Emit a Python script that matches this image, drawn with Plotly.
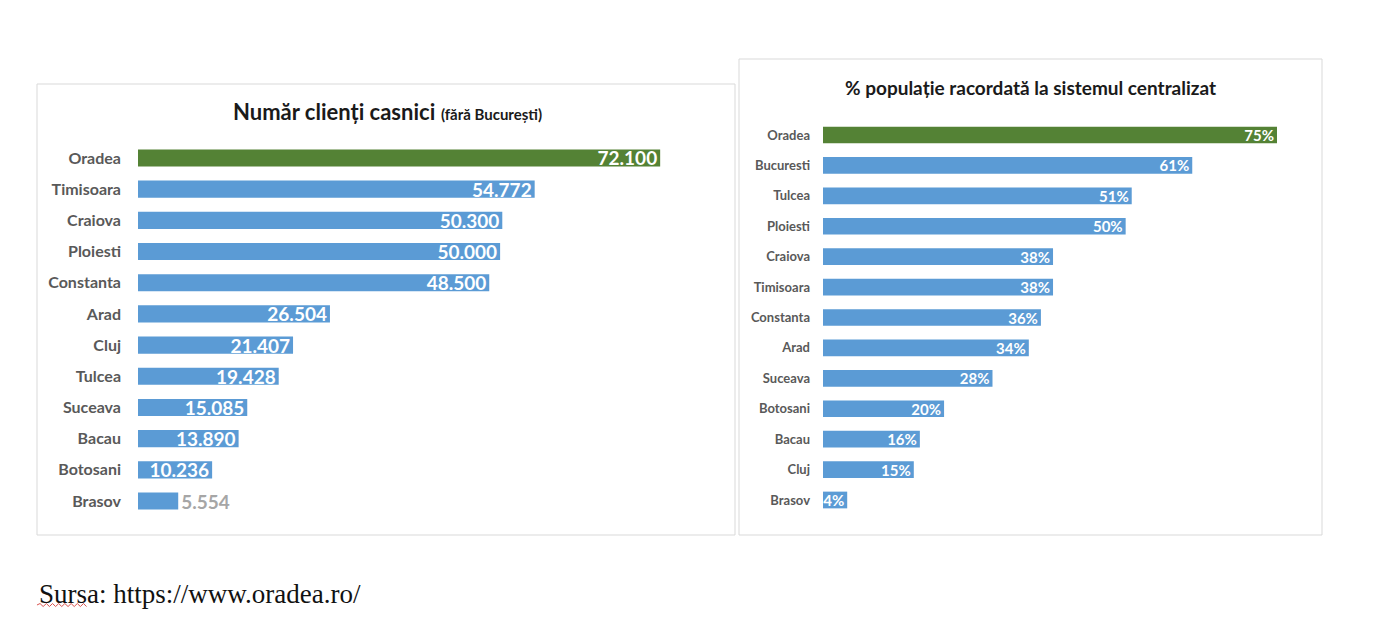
import plotly.graph_objects as go

# date - clienti casnici (fara Bucuresti)
orase_clienti = ["Oradea", "Timisoara", "Craiova", "Ploiesti", "Constanta", "Arad",
                 "Cluj", "Tulcea", "Suceava", "Bacau", "Botosani", "Brasov"]
clienti = [72100, 54772, 50300, 50000, 48500, 26504, 21407, 19428, 15085, 13890, 10236, 5554]
etichete_clienti = ["72.100", "54.772", "50.300", "50.000", "48.500", "26.504",
                    "21.407", "19.428", "15.085", "13.890", "10.236", "5.554"]

# date - % populatie racordata
orase_proc = ["Oradea", "Bucuresti", "Tulcea", "Ploiesti", "Craiova", "Timisoara",
              "Constanta", "Arad", "Suceava", "Botosani", "Bacau", "Cluj", "Brasov"]
procente = [75, 61, 51, 50, 38, 38, 36, 34, 28, 20, 16, 15, 4]

VERDE = "#548235"
ALBASTRU = "#5b9bd5"
W, H = 1400, 637
OFF = 8  # marginea implicita a paginii


def px(x):
    return (x - OFF) / W


def py(y):
    return 1 - (y - OFF) / H


culori1 = [VERDE if o == "Oradea" else ALBASTRU for o in orase_clienti]
culori2 = [VERDE if o == "Oradea" else ALBASTRU for o in orase_proc]

# eticheta pentru Brasov nu incape in bara
pozitii1 = ["inside"] * (len(clienti) - 1) + ["outside"]
culori_text1 = ["white"] * (len(clienti) - 1) + ["#a6a6a6"]

fig = go.Figure()

fig.add_trace(go.Bar(
    x=clienti, y=orase_clienti, orientation="h",
    marker=dict(color=culori1, line=dict(width=0)),
    text=etichete_clienti, textposition=pozitii1, insidetextanchor="end",
    constraintext="none", cliponaxis=False,
    textfont=dict(family="Lato", size=19, color=culori_text1, weight="bold"),
    xaxis="x", yaxis="y", hoverinfo="skip",
))

fig.add_trace(go.Bar(
    x=procente, y=orase_proc, orientation="h",
    marker=dict(color=culori2, line=dict(width=0)),
    text=[f"{p}%" for p in procente], textposition="inside", insidetextanchor="end",
    constraintext="none",
    textfont=dict(family="Lato", size=15, color="white", weight="bold"),
    xaxis="x2", yaxis="y2", hoverinfo="skip",
))

axa_y = dict(autorange=False, showgrid=False, showline=False, zeroline=False, ticks="")

fig.update_layout(
    width=W, height=H,
    margin=dict(l=0, r=0, t=0, b=0),
    paper_bgcolor="white", plot_bgcolor="white",
    showlegend=False, bargap=0.45,
    xaxis=dict(domain=[px(138), px(700)], range=[0, 77600], visible=False),
    yaxis=dict(domain=[py(516.6), py(142.4)], range=[11.5, -0.5],
               categoryorder="array", categoryarray=orase_clienti,
               ticklabelstandoff=16,
               tickfont=dict(family="Lato", size=16, color="#595959", weight="bold"),
               **axa_y),
    xaxis2=dict(domain=[px(823), px(1300)], range=[0, 78.8], visible=False),
    yaxis2=dict(domain=[py(515.2), py(119.8)], range=[12.5, -0.5],
                categoryorder="array", categoryarray=orase_proc,
                ticklabelstandoff=12, anchor="x2",
                tickfont=dict(family="Lato", size=13, color="#595959", weight="bold"),
                **axa_y),
    shapes=[
        dict(type="rect", xref="paper", yref="paper",
             x0=px(37), x1=px(735), y0=py(535), y1=py(84),
             line=dict(color="#d9d9d9", width=1)),
        dict(type="rect", xref="paper", yref="paper",
             x0=px(739), x1=px(1322), y0=py(535), y1=py(59),
             line=dict(color="#d9d9d9", width=1)),
    ],
    annotations=[
        dict(xref="paper", yref="paper", x=px(387), y=py(111), showarrow=False,
             xanchor="center", yanchor="middle",
             text="<b>Număr clienți casnici</b> <b><span style='font-size:15px'>(fără București)</span></b>",
             font=dict(family="Lato", size=22, color="#1a1a1a")),
        dict(xref="paper", yref="paper", x=px(1030), y=py(87), showarrow=False,
             xanchor="center", yanchor="middle",
             text="<b>% populație racordată la sistemul centralizat</b>",
             font=dict(family="Lato", size=19, color="#1a1a1a")),
        dict(xref="paper", yref="paper", x=px(37), y=py(594), showarrow=False,
             xanchor="left", yanchor="middle", text="Sursa: https://www.oradea.ro/",
             font=dict(family="Liberation Serif", size=27, color="#111111")),
    ],
)

# sublinierea ondulata rosie sub "Sursa"
unda = "M {:.4f},{:.4f}".format(px(37), py(605))
for i in range(1, 17):
    x = 37 + i * 3.1
    y = 603.5 if i % 2 else 606.5
    unda += " L {:.4f},{:.4f}".format(px(x), py(y))
fig.add_shape(type="path", xref="paper", yref="paper", path=unda,
              line=dict(color="#d9534f", width=1))

fig.write_html("out.html")
